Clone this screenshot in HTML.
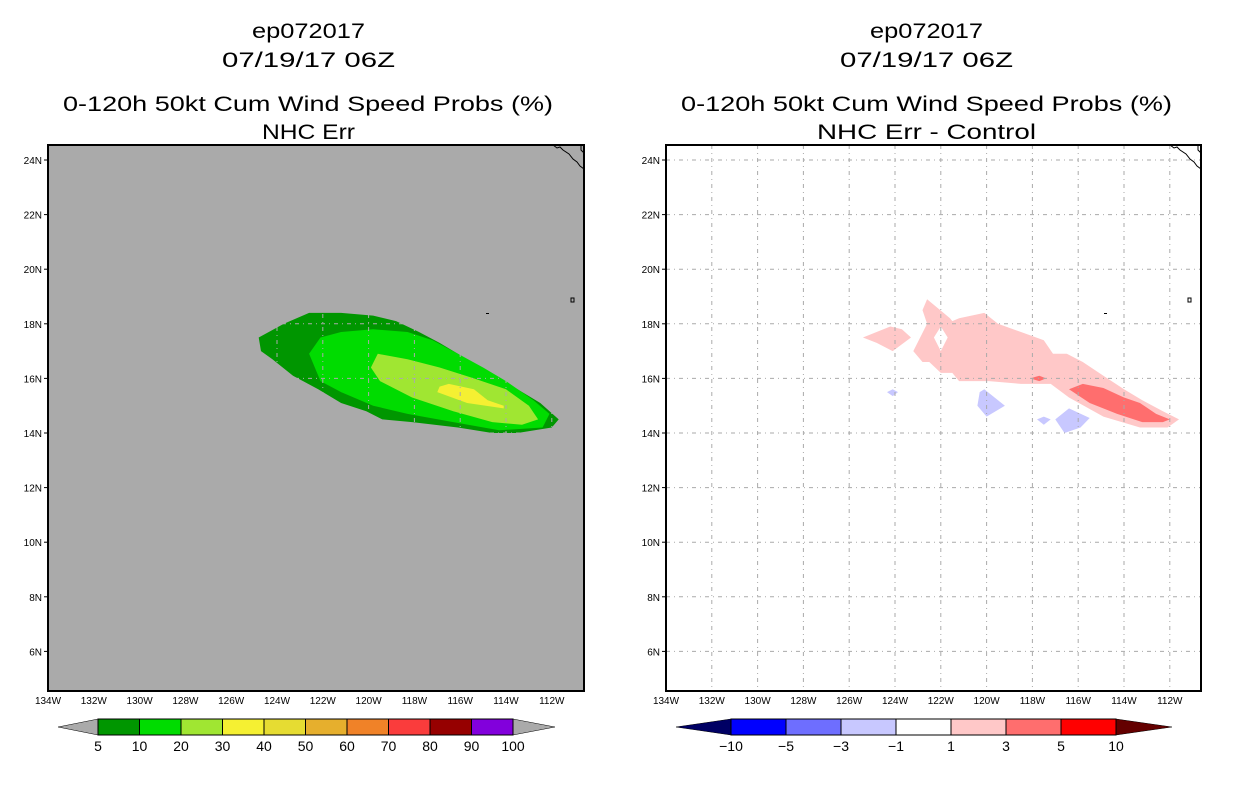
<!DOCTYPE html>
<html><head><meta charset="utf-8"><style>
html,body{margin:0;padding:0;background:#fff;}
svg{display:block;font-family:"Liberation Sans",sans-serif;}
</style></head><body>
<svg id="chart" width="1236" height="800" viewBox="0 0 1236 800" xmlns="http://www.w3.org/2000/svg">
<g id="titles">
<text x="252" y="38" font-size="21" textLength="113" lengthAdjust="spacingAndGlyphs">ep072017</text>
<text x="222" y="67" font-size="21" textLength="173" lengthAdjust="spacingAndGlyphs">07/19/17 06Z</text>
<text x="63" y="111" font-size="21" textLength="490" lengthAdjust="spacingAndGlyphs">0-120h 50kt Cum Wind Speed Probs (%)</text>
<text x="262" y="139" font-size="21" textLength="93" lengthAdjust="spacingAndGlyphs">NHC Err</text>
<text x="870" y="38" font-size="21" textLength="113" lengthAdjust="spacingAndGlyphs">ep072017</text>
<text x="840" y="67" font-size="21" textLength="173" lengthAdjust="spacingAndGlyphs">07/19/17 06Z</text>
<text x="681" y="111" font-size="21" textLength="491" lengthAdjust="spacingAndGlyphs">0-120h 50kt Cum Wind Speed Probs (%)</text>
<text x="817" y="139" font-size="21" textLength="219" lengthAdjust="spacingAndGlyphs">NHC Err - Control</text>
</g>
</svg>
<script>
// ---- data ----
const lonTicks = [134,132,130,128,126,124,122,120,118,116,114,112];
const latTicks = [24,22,20,18,16,14,12,10,8,6];
const probLevels = ["5","10","20","30","40","50","60","70","80","90","100"];
const probColors = ["#009600","#00dc00","#a0e632","#f5f032","#e6dc32","#e6af2d","#f08228","#fa3c3c","#960000","#8200dc"];
const diffLevels = ["-10","-5","-3","-1","1","3","5","10"];
const diffColors = ["#0000ff","#6e6eff","#c8c8ff","#ffffff","#ffc8c8","#ff6e6e","#ff0000"];
const prob5 = [[124.8,17.5],[123.7,18.0],[122.6,18.4],[121.2,18.4],[119.8,18.3],[118.8,18.1],[117.8,17.7],[116.9,17.3],[115.7,16.7],[114.4,15.9],[113.5,15.6],[112.5,15.1],[111.7,14.5],[112.0,14.2],[113.5,14.0],[114.6,14.0],[116.1,14.2],[118.1,14.4],[119.4,14.5],[120.1,14.8],[121.2,15.1],[122.2,15.6],[123.3,16.1],[124.2,16.7],[124.7,17.0]];
const prob10 = [[122.1,17.5],[121.2,17.7],[119.8,17.8],[118.3,17.7],[117.2,17.4],[116.1,16.9],[115.0,16.4],[114.0,15.9],[112.8,15.2],[112.1,14.7],[112.4,14.2],[114.3,14.1],[116.3,14.4],[118.3,14.7],[119.8,15.0],[121.2,15.5],[122.1,15.9],[122.6,16.9]];
const prob20 = [[119.6,16.9],[118.3,16.7],[116.9,16.4],[115.4,16.0],[114.0,15.6],[113.0,15.0],[112.6,14.5],[113.3,14.3],[114.6,14.4],[116.3,14.8],[118.1,15.3],[119.5,15.9],[119.9,16.4]];
const prob30 = [[116.9,15.7],[116.5,15.8],[115.4,15.6],[114.8,15.2],[114.1,15.0],[114.1,14.9],[115.7,15.1],[117.0,15.5]];
const diffPos1Main = [[122.6,18.9],[121.6,18.2],[121.5,18.1],[121.2,18.2],[120.1,18.4],[119.5,18.0],[118.5,17.7],[117.5,17.4],[117.1,16.9],[116.5,16.9],[115.8,16.6],[114.9,16.1],[114.0,15.6],[113.2,15.2],[112.3,14.8],[111.6,14.5],[112.1,14.2],[113.3,14.2],[114.9,14.6],[116.4,15.3],[117.2,15.8],[118.5,15.8],[119.9,15.9],[121.2,15.9],[121.5,16.2],[122.0,16.2],[122.5,16.6],[122.8,16.6],[123.2,17.0],[122.6,18.0],[122.8,18.5]];
const diffPos1Hole = [[122.3,17.5],[122.0,17.9],[121.7,17.5],[122.0,17.0]];
const diffPos1West = [[125.4,17.5],[124.2,17.9],[123.7,17.8],[123.3,17.5],[124.1,17.0],[124.8,17.3]];
const diffPos3Main = [[116.4,15.6],[115.8,15.8],[114.9,15.65],[114.0,15.3],[113.3,15.1],[112.6,14.7],[112.0,14.5],[112.3,14.4],[113.2,14.4],[114.3,14.7],[115.5,15.1]];
const diffPos3Small = [[118.1,16.0],[117.7,16.1],[117.4,16.0],[117.7,15.9]];
const diffNeg1 = [[120.3,15.5],[120.1,15.6],[119.2,15.0],[120.0,14.6],[120.4,15.0]];
const diffNeg2 = [[117.0,14.5],[116.4,14.9],[115.5,14.55],[115.9,14.2],[116.6,14.0]];
const diffNeg3 = [[117.8,14.5],[117.5,14.6],[117.2,14.5],[117.5,14.3]];
const diffNeg4 = [[124.35,15.5],[124.1,15.6],[123.87,15.5],[124.1,15.35]];

// ---- axes ----
const NS="http://www.w3.org/2000/svg";
const svg=document.getElementById('chart');
const PX=22.9, PY=27.3, TOP=145, BOT=691;
function xScale(x0,lon){return x0+(134-lon)*PX;}
function yScale(lat){return 160+(24-lat)*PY;}
function mk(tag,attrs,parent){const e=document.createElementNS(NS,tag);for(const k in attrs)e.setAttribute(k,attrs[k]);(parent||svg).appendChild(e);return e;}
function poly(x0,pts,fill,parent,name){
  const p=mk('polygon',{points:pts.map(q=>xScale(x0,q[0]).toFixed(1)+','+yScale(q[1]).toFixed(1)).join(' '),fill:fill},parent);
  
  
  return p;
}
function panel(x0,x1,bg,name){
  const g=mk('g',{});
  
  
  const r=mk('rect',{x:x0,y:TOP,width:x1-x0,height:BOT-TOP,fill:bg},g);
  
  
  return g;
}
function axesAndGrid(g,x0,x1,gridColor){
  const grid=mk('g',{},g);
  
  
  lonTicks.forEach(l=>{const x=xScale(x0,l);if(x>x0+2&&x<x1-2)mk('line',{x1:x,x2:x,y1:TOP,y2:BOT,stroke:gridColor,'stroke-width':1,'stroke-dasharray':'4,4,1,4'},grid);});
  latTicks.forEach(l=>{const y=yScale(l);mk('line',{x1:x0,x2:x1,y1:y,y2:y,stroke:gridColor,'stroke-width':1,'stroke-dasharray':'4,4,1,4'},grid);});
  lonTicks.forEach(l=>{const x=xScale(x0,l);
    const t=mk('text',{x:x,y:BOT+13,'font-size':10,'text-anchor':'middle'},g);t.textContent=l+'W';
    
    });
  latTicks.forEach(l=>{const y=yScale(l);
    mk('line',{x1:x0-4,x2:x0,y1:y,y2:y,stroke:'#000','stroke-width':1},g);
    const t=mk('text',{x:x0-6,y:y+4,'font-size':10,'text-anchor':'end'},g);t.textContent=l+'N';
    
    });
}
function coast(g,x0,x1){
  const c=mk('path',{d:`M${x1-31},${TOP} l4,3 l3,-1 l3,3 l6,4 l4,5 l4,3 l3,4 l4,3 M${x1-3},${TOP} l0,5 l3,3`,fill:'none',stroke:'#000','stroke-width':1},g);
  
  
  mk('rect',{x:x1-13,y:298,width:3,height:4,fill:'none',stroke:'#000','stroke-width':1},g);
  mk('rect',{x:x0+438,y:313,width:3,height:1,fill:'#000'},g);
}
function frame(g,x0,x1){
  const f=mk('rect',{x:x0,y:TOP,width:x1-x0,height:BOT-TOP,fill:'none',stroke:'#000','stroke-width':2},g);
  
  
}

// left panel
const L0=48,L1=584;
const gl=panel(L0,L1,'#aaaaaa','left-map');
poly(L0,prob5,probColors[0],gl,'prob-5-10');
poly(L0,prob10,probColors[1],gl,'prob-10-20');
poly(L0,prob20,probColors[2],gl,'prob-20-30');
poly(L0,prob30,probColors[3],gl,'prob-30-40');
axesAndGrid(gl,L0,L1,'#aaaaaa');
coast(gl,L0,L1);
frame(gl,L0,L1);

// right panel
const R0=666,R1=1201;
const gr=panel(R0,R1,'#ffffff','right-map');
const hole=mk('path',{d:'M'+diffPos1Main.map(q=>xScale(R0,q[0]).toFixed(1)+','+yScale(q[1]).toFixed(1)).join(' L')+' Z M'+diffPos1Hole.map(q=>xScale(R0,q[0]).toFixed(1)+','+yScale(q[1]).toFixed(1)).join(' L')+' Z',fill:diffColors[4],'fill-rule':'evenodd'},gr);


poly(R0,diffPos1West,diffColors[4],gr,'diff-pos-1-3-west');
poly(R0,diffPos3Main,diffColors[5],gr,'diff-pos-3-5-main');
poly(R0,diffPos3Small,diffColors[5],gr,'diff-pos-3-5-small');
[diffNeg1,diffNeg2,diffNeg3,diffNeg4].forEach((d,i)=>poly(R0,d,diffColors[2],gr,'diff-neg-1-3-blob'));
axesAndGrid(gr,R0,R1,'#aaaaaa');
coast(gr,R0,R1);
frame(gr,R0,R1);

// colorbars
function colorbar(name,tipL,bx0,bx1,tipR,cols,labels,lowCol,highCol){
  const g=mk('g',{});
  
  
  const y0=719,y1=735,ym=727;
  mk('polygon',{points:`${tipL},${ym} ${bx0},${y0} ${bx0},${y1}`,fill:lowCol,stroke:'#000','stroke-width':0.5},g);
  mk('polygon',{points:`${tipR},${ym} ${bx1},${y0} ${bx1},${y1}`,fill:highCol,stroke:'#000','stroke-width':0.5},g);
  const w=(bx1-bx0)/cols.length;
  cols.forEach((c,i)=>{const r=mk('rect',{x:bx0+i*w,y:y0,width:w,height:y1-y0,fill:c,stroke:'#000','stroke-width':1},g);
    
    });
  labels.forEach((s,i)=>{const t=mk('text',{x:bx0+i*w,y:751,'font-size':14,'text-anchor':'middle'},g);t.textContent=s.replace('-','\u2212');
    
    });
}
colorbar('left-colorbar',58,98,513,555,probColors,probLevels,'#aaaaaa','#aaaaaa');
colorbar('right-colorbar',676,731,1116,1172,diffColors,diffLevels,'#000064','#640000');
</script>
</body></html>
